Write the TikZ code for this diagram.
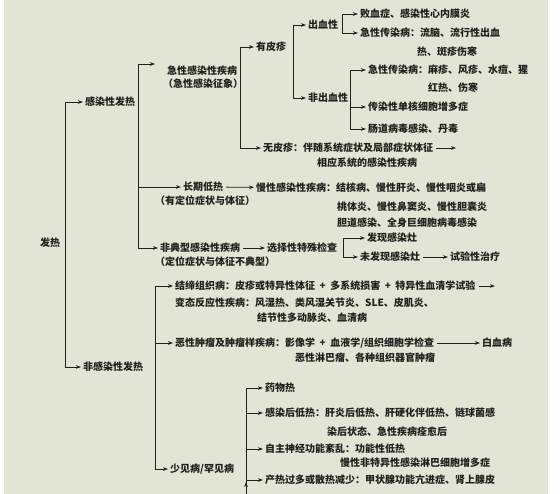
\documentclass[tikz,border=0pt]{standalone}
\usepackage{fontspec}
\setmainfont{Noto Sans CJK SC}
\usetikzlibrary{arrows.meta,positioning}
\definecolor{paper}{RGB}{226,229,213}
\definecolor{ink}{RGB}{32,32,28}
\newcommand{\plusgap}{\hspace{0.45em}+\hspace{0.45em}}

\begin{document}
\begin{tikzpicture}[
        x=1pt, y=-1pt,
        every node/.style={anchor=west, inner sep=0pt, text=ink, font=\fontsize{10}{12}\selectfont\bfseries},
        ar/.style={-{Stealth[length=5pt,width=3.6pt]}, draw=ink, line width=0.8pt, shorten >=2pt},
        ln/.style={draw=ink, line width=0.8pt},
    ]
    \useasboundingbox (0,0) rectangle (560,494);
    \fill[white] (0,0) rectangle (560,494);
    \fill[paper] (4,0) rectangle (548,494);

    % bracket columns
    \coordinate (b0) at (65,0);
    \coordinate (b1) at (138,0);
    \coordinate (b2) at (240,0);
    \coordinate (b3) at (293,0);
    \coordinate (b4) at (342,0);
    \coordinate (b5) at (350,0);
    \coordinate (b6) at (343,0);
    \coordinate (b7) at (155,0);
    \coordinate (b8) at (246,0);

    \node[](fr) at (40,243) {发热};
    \node[](gr) at (85,102) {感染性发热};
    \node[](fgr) at (83,367) {非感染性发热};

    \node[](jx) at (167,71) {急性感染性疾病};
    \node[](jx2) at (163,84) {（急性感染征象）};
    \coordinate (jxtip) at (157,64);
    \node[](cq) at (183,187) {长期低热};
    \node[](cq2) at (155,201) {（有定位症状与体征）};
    \node[](fd) at (160,248) {非典型感染性疾病};
    \node[](fd2) at (155,262) {（定位症状与体征不典型）};

    \node[](ypz) at (256,47) {有皮疹};
    \node[](wpz) at (263,148) {无皮疹：伴随系统症状及局部症状体征};
    \node[](wpz2) at (317,163) {相应系统的感染性疾病};
    \coordinate (wpze) at (458,148);

    \node[](cxx) at (308,25) {出血性};
    \node[](fcx) at (308,98) {非出血性};
    \node[](bxz) at (360,14) {败血症、感染性心内膜炎};
    \node[](jcr) at (360,33) {急性传染病：流脑、流行性出血};
    \node[](jcr2) at (417,52) {热、斑疹伤寒};
    \node[](jcm) at (368,70) {急性传染病：麻疹、风疹、水痘、猩};
    \node[](jcm2) at (428,88) {红热、伤寒};
    \node[](drx) at (368,107) {传染性单核细胞增多症};
    \node[](cdb) at (368,129) {肠道病毒感染、丹毒};

    \node[](mx) at (256,188) {慢性感染性疾病：结核病、慢性肝炎、慢性咽炎或扁};
    \node[](mx2) at (337,207) {桃体炎、慢性鼻窦炎、慢性胆囊炎};
    \node[](mx3) at (337,223) {胆道感染、全身巨细胞病毒感染};

    \node[](xz) at (267,248) {选择性特殊检查};
    \node[](fx) at (367,238) {发现感染灶};
    \node[](wfx) at (360,257) {未发现感染灶};
    \node[](syx) at (450,257) {试验性治疗};

    \node[](jd) at (175,286) {结缔组织病：皮疹或特异性体征\plusgap 多系统损害\plusgap 特异性血清学试验};
    \coordinate (jde) at (497,286);
    \node[](bt) at (175,303) {变态反应性疾病：风湿热、类风湿关节炎、SLE、皮肌炎、};
    \node[](bt2) at (257,318) {结节性多动脉炎、血清病};
    \node[](ex) at (175,343) {恶性肿瘤及肿瘤样疾病：影像学\plusgap 血液学/组织细胞学检查};
    \node[](bxb) at (482,343) {白血病};
    \node[](ex2) at (295,358) {恶性淋巴瘤、各种组织器官肿瘤};

    \node[](sj) at (170,469) {少见病/罕见病};
    \node[](yw) at (265,388) {药物热};
    \node[](gh) at (265,413) {感染后低热：肝炎后低热、肝硬化伴低热、链球菌感};
    \node[](gh2) at (327,432) {染后状态、急性疾病痊愈后};
    \node[](zz) at (265,449) {自主神经功能紊乱：功能性低热};
    \node[](zz2) at (340,463) {慢性非特异性感染淋巴细胞增多症};
    \node[](cr) at (265,480) {产热过多或散热减少：甲状腺功能亢进症、肾上腺皮};
    \coordinate (b8end) at (246,494);

    \draw[ln] (gr.west -| b0) -- (fgr.west -| b0);
    \draw[ln] (jxtip -| b1) -- (fd.west -| b1);
    \draw[ln] (ypz.west -| b2) -- (wpz.west -| b2);
    \draw[ln] (cxx.west -| b3) -- (fcx.west -| b3);
    \draw[ln] (bxz.west -| b4) -- (jcr.west -| b4);
    \draw[ln] (jcm.west -| b5) -- (cdb.west -| b5);
    \draw[ln] (fx.west -| b6) -- (wfx.west -| b6);
    \draw[ln] (jd.west -| b7) -- (sj.west -| b7);
    \draw[ln] (yw.west -| b8) -- (b8end);

    \path[ar]
    (gr.west -| b0) edge (gr.west)
    (fgr.west -| b0) edge (fgr.west)
    (jxtip -| b1) edge (jxtip)
    (cq.west -| b1) edge (cq.west)
    (fd.west -| b1) edge (fd.west)
    (ypz.west -| b2) edge (ypz.west)
    (wpz.west -| b2) edge (wpz.west)
    (cxx.west -| b3) edge (cxx.west)
    (fcx.west -| b3) edge (fcx.west)
    (bxz.west -| b4) edge (bxz.west)
    (jcr.west -| b4) edge (jcr.west)
    (jcm.west -| b5) edge (jcm.west)
    (drx.west -| b5) edge (drx.west)
    (cdb.west -| b5) edge (cdb.west)
    (fx.west -| b6) edge (fx.west)
    (wfx.west -| b6) edge (wfx.west)
    (jd.west -| b7) edge (jd.west)
    (ex.west -| b7) edge (ex.west)
    (sj.west -| b7) edge (sj.west)
    (yw.west -| b8) edge (yw.west)
    (gh.west -| b8) edge (gh.west)
    (zz.west -| b8) edge (zz.west)
    (cr.west -| b8) edge (cr.west)
    ;

    \path[ar, shorten <=3pt]
    (cq) edge (mx)
    (fd) edge (xz)
    (wfx) edge (syx)
    (ex) edge (bxb)
    (wpz) edge (wpze)
    (jd) edge (jde)
    ;
\end{tikzpicture}
\end{document}
